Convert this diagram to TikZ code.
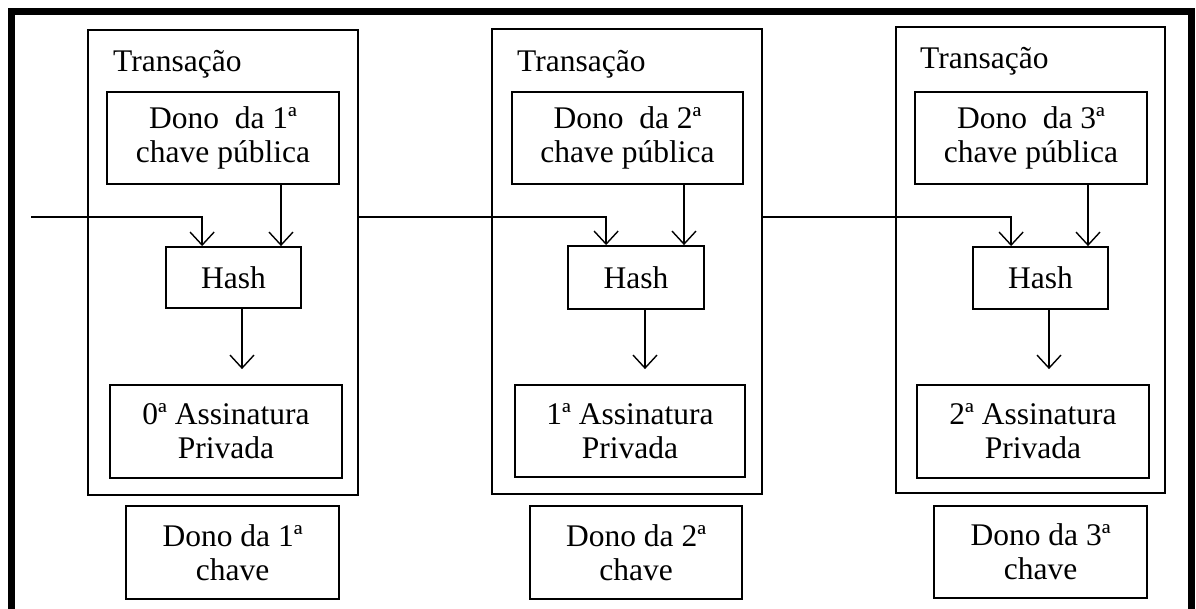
\documentclass[tikz,border=0pt]{standalone}
\usepackage{fontspec}
\setmainfont{Liberation Serif}
\usetikzlibrary{arrows.meta,calc}
\begin{document}
\begin{tikzpicture}[x=1pt,y=-1pt,
  box/.style={draw=black,line width=1.8pt,inner sep=0pt,align=center,font=\fontsize{31.5}{34}\selectfont},
  tbox/.style={draw=black,line width=1.8pt,inner sep=0pt},
  lbl/.style={inner sep=0pt,anchor=base west,font=\fontsize{31.5}{34}\selectfont},
  arr/.style={line width=1.4pt,-{Straight Barb[length=13pt,width=24pt,line width=1.4pt]}},
  conn/.style={line width=1.4pt}]
\useasboundingbox (0,0) rectangle (1196,608);
% outer frame
\draw[line width=6.5pt,line cap=rect] (11.5,614) -- (11.5,11.5) -- (1191.5,11.5) -- (1191.5,614);

% ---- block 1
\node[tbox,minimum width=270,minimum height=465] (T1) at (223,262.5) {};
\node[lbl] (L1) at (113,71) {Transação};
\node[box,minimum width=232,minimum height=92] (P1) at (223,138) {Dono\ \ da 1ª\\chave pública};
\node[box,minimum width=135,minimum height=61] (H1) at (233.5,277.5) {Hash};
\node[box,minimum width=232,minimum height=93] (S1) at (226,431.5) {0ª Assinatura\\Privada};
\node[box,minimum width=213,minimum height=93] (D1) at (232.5,552.5) {Dono da 1ª\\chave};

% ---- block 2
\node[tbox,minimum width=270,minimum height=465] (T2) at (627,261.5) {};
\node[lbl] (L2) at (517,71) {Transação};
\node[box,minimum width=231,minimum height=92] (P2) at (627.5,138) {Dono\ \ da 2ª\\chave pública};
\node[box,minimum width=136,minimum height=63] (H2) at (636,277.5) {Hash};
\node[box,minimum width=230,minimum height=92] (S2) at (630,431) {1ª Assinatura\\Privada};
\node[box,minimum width=212,minimum height=93] (D2) at (636,552.5) {Dono da 2ª\\chave};

% ---- block 3
\node[tbox,minimum width=269,minimum height=466] (T3) at (1030.5,260) {};
\node[lbl] (L3) at (920,68) {Transação};
\node[box,minimum width=232,minimum height=92] (P3) at (1031,138) {Dono\ \ da 3ª\\chave pública};
\node[box,minimum width=135,minimum height=62] (H3) at (1040.5,278) {Hash};
\node[box,minimum width=232,minimum height=93] (S3) at (1033,431.5) {2ª Assinatura\\Privada};
\node[box,minimum width=213,minimum height=92] (D3) at (1040.5,552) {Dono da 3ª\\chave};

% ---- connectors
\coordinate (in) at (31,217);
\draw[arr] (in) -| ($(H1.north west)+(37,0)$);
\draw[arr] (P1.south -| 281,0) -- (H1.north -| 281,0);
\draw[arr] (H1.south -| 242,0) -- ($(S1.north -| 242,0)+(0,-15)$);

\draw[arr] (T1.east |- in) -| ($(H2.north west)+(39,0)$);
\draw[arr] (P2.south -| 684,0) -- (H2.north -| 684,0);
\draw[arr] (H2.south -| 645,0) -- ($(S2.north -| 645,0)+(0,-15)$);

\draw[arr] (T2.east |- in) -| ($(H3.north west)+(39,0)$);
\draw[arr] (P3.south -| 1088,0) -- (H3.north -| 1088,0);
\draw[arr] (H3.south -| 1049,0) -- ($(S3.north -| 1049,0)+(0,-15)$);
\end{tikzpicture}
\end{document}
